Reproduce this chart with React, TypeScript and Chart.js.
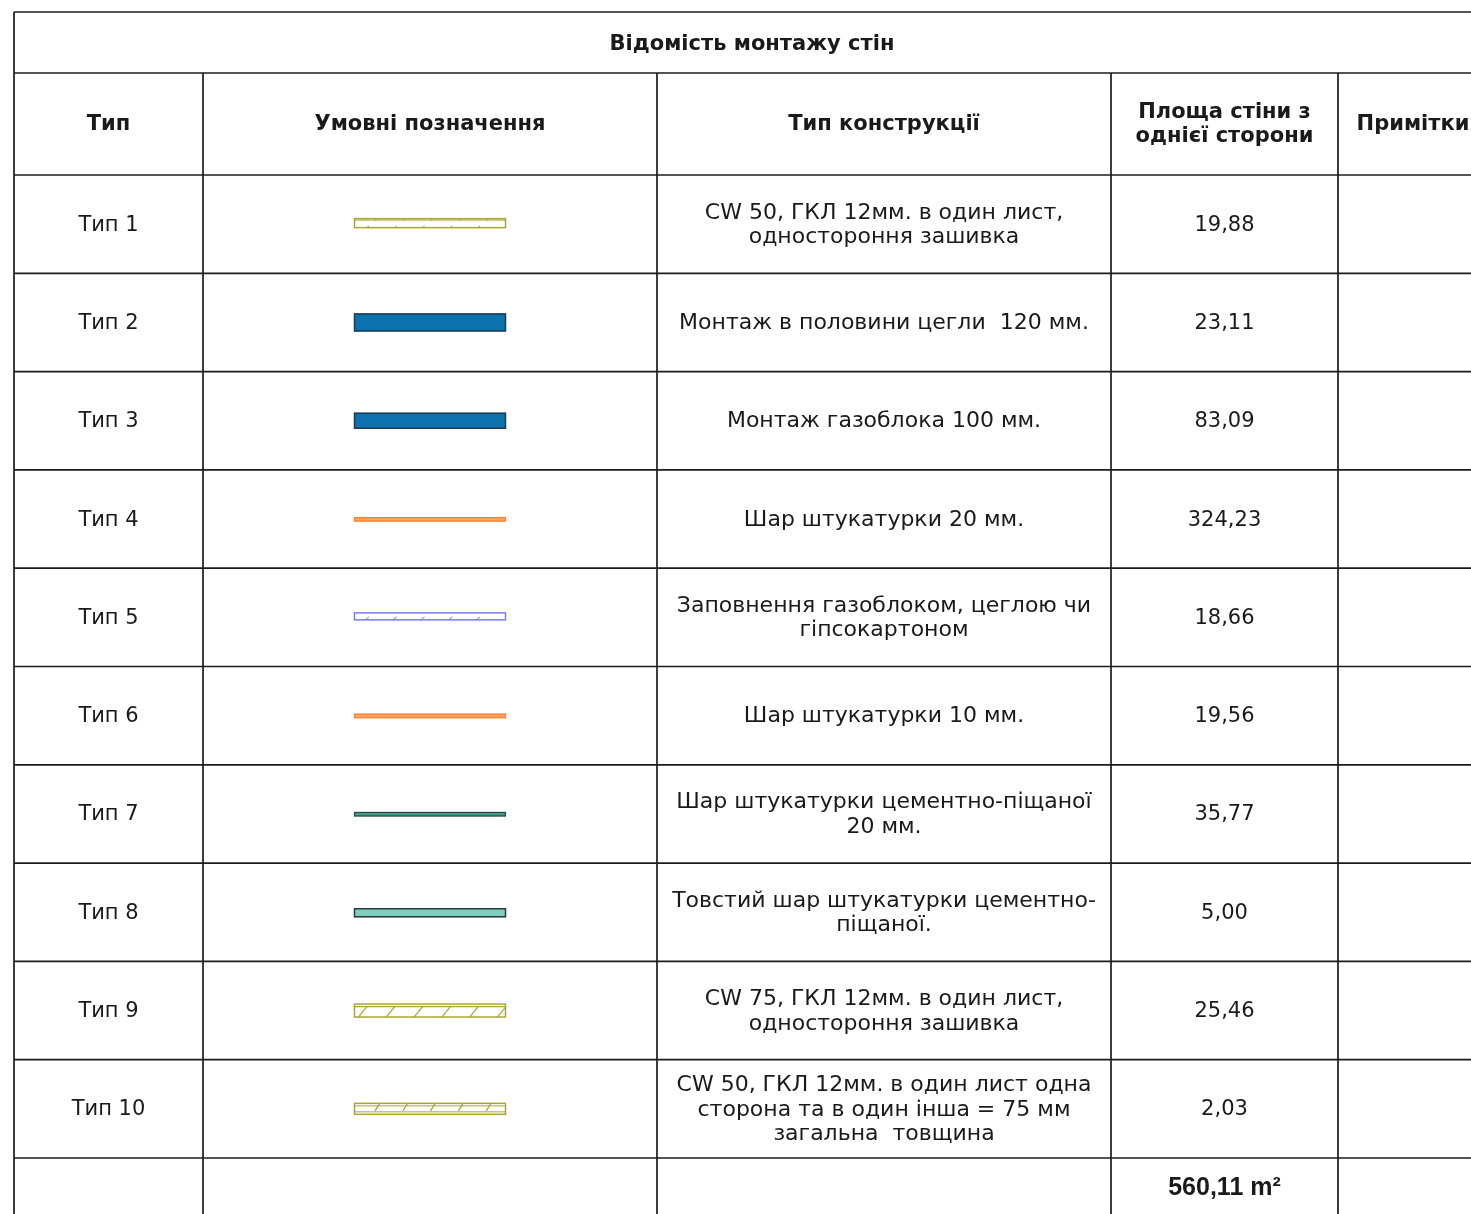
import React, { useEffect, useRef } from 'react';
import { Chart, registerables } from 'chart.js';

Chart.register(...registerables);

// ---------- data ----------
const tableTitle = 'Відомість монтажу стін';
const headerLabels = ['Тип', 'Умовні позначення', 'Тип конструкції', 'Площа стіни з\nоднієї сторони', 'Примітки'];
const typeLabels = ['Тип 1', 'Тип 2', 'Тип 3', 'Тип 4', 'Тип 5', 'Тип 6', 'Тип 7', 'Тип 8', 'Тип 9', 'Тип 10'];
const constructionTypes = [
  'CW 50, ГКЛ 12мм. в один лист,\nодностороння зашивка',
  'Монтаж в половини цегли  120 мм.',
  'Монтаж газоблока 100 мм.',
  'Шар штукатурки 20 мм.',
  'Заповнення газоблоком, цеглою чи\nгіпсокартоном',
  'Шар штукатурки 10 мм.',
  'Шар штукатурки цементно-піщаної\n20 мм.',
  'Товстий шар штукатурки цементно-\nпіщаної.',
  'CW 75, ГКЛ 12мм. в один лист,\nодностороння зашивка',
  'CW 50, ГКЛ 12мм. в один лист одна\nсторона та в один інша = 75 мм\nзагальна  товщина',
];
const wallAreas = [19.88, 23.11, 83.09, 324.23, 18.66, 19.56, 35.77, 5.0, 25.46, 2.03];
const notes = ['', '', '', '', '', '', '', '', '', ''];
const totalArea = 560.11;
const totalUnit = 'm²';
const legendKinds = ['cw50', 'brick', 'block', 'plaster20', 'infill', 'plaster10', 'cement', 'thick', 'cw75', 'cw50x2'];

// ---------- layout & styles (page units = CSS pixels) ----------
const PAGE_W = 1471;
const PAGE_H = 1214;
const COLS = [14, 203, 657, 1111, 1338, 1490];
const TITLE_TOP = 12;
const HEADER_TOP = 73;
const BODY_TOP = 175;
const ROW_H = 98.3;
const LINE_COLOR = '#1c1c1c';
const TEXT_COLOR = '#1a1a1a';
const FONT = '"DejaVu Sans", "Noto Sans", sans-serif';
const NARROW = '"Liberation Sans Narrow", "Liberation Sans", Arial, sans-serif';
const SW_X0 = 354;
const SW_X1 = 506;

const fmt = (v: number) => v.toFixed(2).replace('.', ',');

function drawSwatch(ctx: CanvasRenderingContext2D, kind: string, X: (v: number) => number, Y: (v: number) => number, cy: number) {
  const x0 = X(SW_X0);
  const x1 = X(SW_X1);
  const w = x1 - x0;
  const rect = (top: number, h: number, fill: string | null, stroke: string | null, lw = 1) => {
    const y = Y(cy + top);
    const hh = Y(cy + top + h) - y;
    if (fill) {
      ctx.fillStyle = fill;
      ctx.fillRect(x0, y, w, hh);
    }
    if (stroke) {
      ctx.strokeStyle = stroke;
      ctx.lineWidth = lw;
      ctx.strokeRect(x0 + 0.5, y + 0.5, w - 1, hh - 1);
    }
  };
  const line = (ax: number, ay: number, bx: number, by: number, color: string, lw = 1) => {
    ctx.strokeStyle = color;
    ctx.lineWidth = lw;
    ctx.beginPath();
    ctx.moveTo(X(ax), Y(cy + ay));
    ctx.lineTo(X(bx), Y(cy + by));
    ctx.stroke();
  };
  const olive = '#a9a733';
  switch (kind) {
    case 'cw50': {
      rect(-6, 10, null, olive, 1.5);
      ctx.fillStyle = 'rgba(169,167,51,0.55)';
      ctx.fillRect(x0, Y(cy - 6), w, Y(cy - 3) - Y(cy - 6));
      for (let i = 0; i < 5; i++) {
        const tx = 376 + i * 27.8;
        line(tx - 1, -4, tx + 1, -5, olive, 1);
        const bx = 368 + i * 27.8;
        line(bx - 1, 3, bx + 1, 2, olive, 1);
      }
      break;
    }
    case 'brick':
      rect(-9, 18, '#0b72ae', '#1f3b4f', 1.5);
      break;
    case 'block':
      rect(-8, 16, '#0b72ae', '#1f3b4f', 1.5);
      break;
    case 'plaster20':
    case 'plaster10':
      rect(-2, 4.5, '#ffa466', '#ff7f2a', 1.2);
      break;
    case 'infill': {
      rect(-5, 8, null, '#7b7bff', 1.5);
      for (let i = 0; i < 5; i++) {
        const tx = 365 + i * 27.8;
        line(tx, 2.5, tx + 4, -0.5, '#7b7bff', 1);
      }
      break;
    }
    case 'cement':
      rect(-2, 4.5, '#3f9f88', '#2f4843', 1.2);
      break;
    case 'thick':
      rect(-4, 9, '#7ecfbf', '#2c3b38', 1.5);
      break;
    case 'cw75': {
      rect(-7, 14, null, olive, 1.5);
      line(SW_X0, -4, SW_X1, -4, olive, 1.2);
      ctx.save();
      ctx.beginPath();
      ctx.rect(x0, Y(cy - 4), w, Y(cy + 7) - Y(cy - 4));
      ctx.clip();
      for (let i = 0; i < 6; i++) {
        const bx = 358 + i * 27.8;
        line(bx, 7, bx + 9, -4, olive, 1.2);
      }
      ctx.restore();
      break;
    }
    case 'cw50x2': {
      rect(-6, 12, null, olive, 1.5);
      line(SW_X0, -3, SW_X1, -3, olive, 1);
      line(SW_X0, 3, SW_X1, 3, olive, 1);
      for (let i = 0; i < 5; i++) {
        const bx = 375 + i * 27.8;
        line(bx, 2, bx + 5, -6, olive, 1.2);
      }
      break;
    }
  }
}

const tablePlugin = {
  id: 'wallTable',
  afterDraw(chart: any) {
    const ctx: CanvasRenderingContext2D = chart.ctx;
    const xs = chart.scales.x;
    const ys = chart.scales.y;
    const X = (v: number) => xs.getPixelForValue(v);
    const Y = (v: number) => ys.getPixelForValue(v);
    const nRows = typeLabels.length;
    const rowTop = (i: number) => BODY_TOP + i * ROW_H;
    const totalTop = rowTop(nRows);
    const bottom = PAGE_H + 40;

    ctx.save();
    ctx.fillStyle = '#ffffff';
    ctx.fillRect(0, 0, chart.width, chart.height);

    // grid lines
    ctx.strokeStyle = LINE_COLOR;
    ctx.lineWidth = 1.7;
    const hLine = (y: number) => {
      ctx.beginPath();
      ctx.moveTo(X(COLS[0]), Y(y));
      ctx.lineTo(X(PAGE_W + 20), Y(y));
      ctx.stroke();
    };
    const vLine = (x: number, a: number, b: number) => {
      ctx.beginPath();
      ctx.moveTo(X(x), Y(a));
      ctx.lineTo(X(x), Y(b));
      ctx.stroke();
    };
    hLine(TITLE_TOP);
    hLine(HEADER_TOP);
    hLine(BODY_TOP);
    for (let i = 1; i <= nRows; i++) hLine(rowTop(i));
    vLine(COLS[0], TITLE_TOP, bottom);
    for (let c = 1; c < COLS.length; c++) vLine(COLS[c], HEADER_TOP, bottom);

    const colCenter = (c: number) => (COLS[c] + COLS[c + 1]) / 2;
    const text = (s: string, cx: number, cy: number, font: string, lh: number) => {
      ctx.font = font;
      ctx.fillStyle = TEXT_COLOR;
      ctx.textAlign = 'center';
      ctx.textBaseline = 'middle';
      const lines = s.split('\n');
      lines.forEach((ln, k) => {
        ctx.fillText(ln, X(cx), Y(cy + (k - (lines.length - 1) / 2) * lh));
      });
    };

    // title
    text(tableTitle, 752, (TITLE_TOP + HEADER_TOP) / 2 + 2, `bold 21px ${FONT}`, 24);
    // headers
    const hc = (HEADER_TOP + BODY_TOP) / 2 + 1;
    headerLabels.forEach((h, c) => {
      const cx = c === 4 ? 1413 : colCenter(c);
      text(h, cx, hc, `bold 21px ${FONT}`, 24);
    });
    // rows
    for (let i = 0; i < nRows; i++) {
      const cy = rowTop(i) + ROW_H / 2 + 1;
      text(typeLabels[i], colCenter(0), cy, `21px ${FONT}`, 25);
      drawSwatch(ctx, legendKinds[i], X, Y, cy - 1);
      text(constructionTypes[i], colCenter(2), cy, `22px ${FONT}`, 24.5);
      text(fmt(wallAreas[i]), colCenter(3), cy, `21px ${FONT}`, 25);
      if (notes[i]) text(notes[i], 1413, cy, `21px ${FONT}`, 25);
    }
    // total
    text(`${fmt(totalArea)} ${totalUnit}`, colCenter(3), totalTop + 30, `bold 25px ${NARROW}`, 24);
    ctx.restore();
  },
};

export default function App() {
  const ref = useRef<HTMLCanvasElement | null>(null);
  useEffect(() => {
    if (!ref.current) return;
    const chart = new Chart(ref.current, {
      type: 'scatter',
      data: {
        datasets: [
          {
            label: 'area',
            data: wallAreas.map((a, i) => ({ x: 1224, y: BODY_TOP + (i + 0.5) * ROW_H })),
            pointRadius: 0,
            showLine: false,
          },
        ],
      },
      options: {
        responsive: false,
        animation: false,
        maintainAspectRatio: false,
        layout: { padding: 0 },
        plugins: { legend: { display: false }, tooltip: { enabled: false }, title: { display: false } },
        events: [],
        scales: {
          x: { type: 'linear', min: 0, max: PAGE_W, display: false },
          y: { type: 'linear', min: 0, max: PAGE_H, reverse: true, display: false },
        },
      },
      plugins: [tablePlugin],
    });
    return () => chart.destroy();
  }, []);
  return (
    <div style={{ position: 'absolute', left: 0, top: 0, width: PAGE_W, height: PAGE_H, background: '#fff', overflow: 'hidden' }}>
      <canvas ref={ref} width={PAGE_W} height={PAGE_H} style={{ width: PAGE_W, height: PAGE_H, display: 'block' }} />
    </div>
  );
}
